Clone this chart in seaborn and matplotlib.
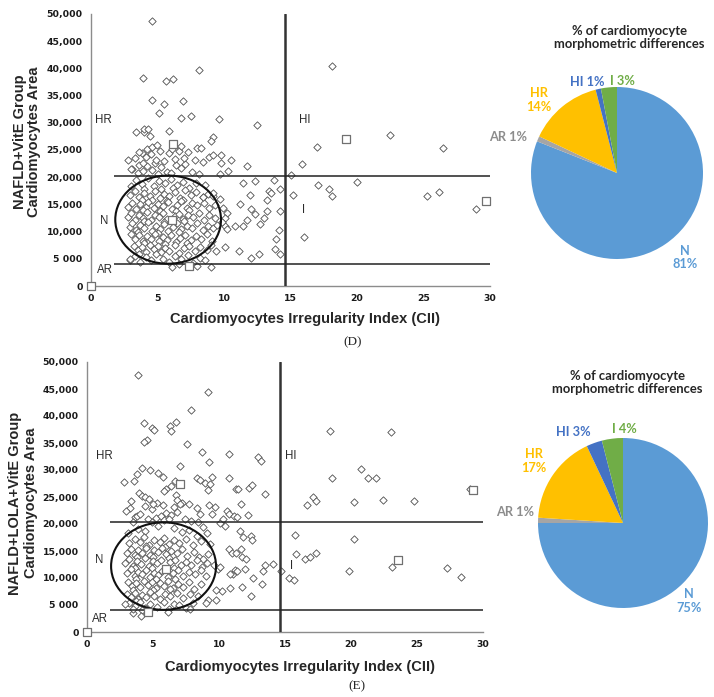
# Cardiomyocyte morphometry: CII vs area scatter + pie of categories
import pandas as pd
import matplotlib
matplotlib.use('Agg')
import matplotlib.pyplot as plt
from matplotlib.patches import Ellipse
import seaborn as sns

# ---------------- data ----------------
y_ticks = [0, 5000, 10000, 15000, 20000, 25000, 30000, 35000, 40000, 45000, 50000]
y_tick_labels = ['0', '5 000', '10,000', '15,000', '20,000', '25,000',
                 '30,000', '35,000', '40,000', '45,000', '50,000']
x_ticks = [0, 5, 10, 15, 20, 25, 30]

# cut-offs
cii_cut = 14.6
area_high = 20300
area_low = 4100
normal_center = (5.8, 12200)
normal_size = (7.95, 16200)

# panel D, NAFLD+VitE
d_cluster = [
    (3.1, 21500), (3.5, 20800), (3.9, 21200), (4.2, 22000), (4.6, 21400), (5.0, 20600),
    (5.3, 21800), (5.7, 21000), (6.0, 20700), (6.4, 22300), (6.8, 21600), (7.1, 22400),
    (7.6, 20900), (8.1, 20600), (4.8, 22600), (3.6, 22300),
    (3.3, 23500), (3.8, 24500), (4.1, 23700), (4.5, 24200), (4.9, 23100), (5.2, 24800),
    (5.5, 22900), (5.9, 24400), (6.3, 23300), (6.6, 24900), (7.0, 23600), (7.3, 24600),
    (7.8, 23100), (8.4, 22800), (3.9, 22700), (6.1, 25200),
    (3.0, 18300), (3.4, 19500), (3.8, 18700), (4.3, 19800), (4.7, 18400), (5.1, 19300),
    (5.6, 18900), (6.0, 19700), (6.5, 18500), (6.9, 19200), (7.4, 18100), (7.9, 19000),
    (8.6, 18600), (4.0, 17900), (5.3, 17800), (6.2, 18000),
    (2.9, 16800), (3.3, 17400), (3.6, 16300), (4.0, 17100), (4.4, 16600), (4.8, 17500),
    (5.2, 16200), (5.5, 17000), (5.9, 16500), (6.3, 17300), (6.7, 16100), (7.1, 17600),
    (7.5, 16700), (7.9, 17200), (8.4, 16400), (8.8, 17000), (9.2, 16600), (3.8, 15900),
    (4.6, 15800), (5.7, 15700), (6.9, 15900),
    (2.8, 14500), (3.1, 15300), (3.4, 14200), (3.7, 15000), (4.1, 14600), (4.3, 15500),
    (4.7, 14300), (5.0, 15100), (5.4, 14700), (5.8, 15400), (6.1, 14100), (6.5, 14900),
    (6.8, 15600), (7.2, 14400), (7.6, 15200), (8.0, 14800), (8.5, 15300), (8.9, 14300),
    (9.3, 14900), (3.9, 13900), (5.2, 13800), (6.4, 13700), (7.4, 13900),
    (2.8, 12600), (3.0, 13400), (3.3, 12200), (3.6, 13100), (3.9, 12500), (4.2, 13600),
    (4.5, 12100), (4.8, 13000), (5.1, 12700), (5.4, 13500), (5.7, 12300), (6.3, 12900),
    (6.6, 13300), (6.9, 12400), (7.3, 13100), (7.7, 12600), (8.1, 13400), (8.5, 12200),
    (8.9, 13000), (9.3, 12500), (4.0, 11900), (5.5, 11800), (7.0, 11900),
    (2.9, 10800), (3.1, 11500), (3.4, 10300), (3.7, 11200), (4.0, 10600), (4.3, 11700),
    (4.6, 10200), (4.9, 11000), (5.2, 10500), (5.5, 11400), (5.8, 10100), (6.2, 10900),
    (6.5, 11600), (6.8, 10400), (7.2, 11100), (7.6, 10700), (8.0, 11500), (8.4, 10300),
    (8.8, 11000), (9.2, 10600), (9.5, 11300), (3.5, 9900), (5.0, 9800), (6.6, 9900),
    (3.0, 9500), (3.3, 8700), (3.6, 9300), (3.9, 8300), (4.2, 9100), (4.5, 8600),
    (4.8, 9600), (5.1, 8200), (5.4, 9000), (5.7, 8500), (6.0, 9400), (6.4, 8100),
    (6.7, 8900), (7.1, 9300), (7.5, 8400), (7.9, 9100), (8.3, 8700), (8.7, 9500),
    (9.1, 8300), (4.0, 7900), (5.6, 7800), (7.2, 7900),
    (3.2, 7400), (3.5, 6600), (3.8, 7100), (4.1, 6300), (4.4, 7600), (4.7, 6800),
    (5.0, 7300), (5.3, 6200), (5.6, 7000), (5.9, 6500), (6.3, 7500), (6.6, 6100),
    (7.0, 6900), (7.4, 7300), (7.8, 6400), (8.2, 7100), (8.7, 6700), (9.0, 7500), (3.6, 5900),
    (2.9, 4800), (3.3, 5600), (3.7, 4500), (4.1, 5300), (4.5, 4700), (4.9, 5800),
    (5.4, 5000), (5.9, 4400), (6.3, 5500), (6.8, 4900), (7.3, 5700), (7.7, 4300),
    (8.2, 5200), (8.6, 4700), (9.4, 6500),
]
d_outer = [
    (4.58, 48650), (3.9, 38250), (5.65, 37640), (6.2, 38130), (8.15, 39720), (4.6, 34270),
    (5.5, 33400), (6.9, 34000), (5.15, 31760), (7.5, 31210), (6.8, 30840), (9.6, 30660),
    (12.5, 29620), (3.4, 28330), (4.0, 28300), (4.0, 28900), (4.3, 28800), (4.4, 27660),
    (5.9, 28500), (9.2, 27480), (9.0, 26740), (6.8, 25700), (8.0, 25330), (8.3, 25330),
    (3.6, 24600), (4.2, 25200), (4.6, 25640), (4.95, 26000), (2.8, 23070), (3.0, 21540),
    (8.9, 23750), (9.2, 24170), (9.8, 22580), (10.5, 23190), (9.8, 24050), (11.7, 22090),
    (10.3, 21170), (9.7, 20500), (11.4, 18900), (12.3, 19340), (13.75, 19520), (14.2, 17870),
    (11.95, 16650), (11.2, 15120), (13.2, 15730), (13.4, 17440), (13.55, 17140), (12.0, 14200),
    (12.35, 13280), (13.0, 12480), (12.7, 11320), (13.2, 13770), (14.2, 13770), (11.7, 12060),
    (11.4, 11020), (10.85, 11080), (10.1, 11080), (10.2, 10400), (11.15, 6490), (12.0, 5200),
    (12.6, 5810), (13.8, 6850), (13.9, 8570), (14.15, 10220), (14.2, 5810), (8.45, 16340),
    (9.2, 17070), (9.7, 15970), (9.9, 14380), (10.2, 13400), (10.1, 12550), (9.85, 11690),
    (9.0, 3490), (7.95, 3670), (6.1, 3490), (6.65, 4100), (2.95, 5020), (10.1, 7100),
    (18.09, 40450), (22.49, 27780), (16.96, 25520), (26.48, 25340), (15.88, 22460),
    (15.03, 20440), (20.03, 19160), (17.06, 18600), (17.89, 17810), (18.14, 16460),
    (15.2, 16710), (25.28, 16520), (26.13, 17200), (28.97, 14200), (15.98, 8940),
]
d_centroids = [(0, 0), (6.2, 26100), (6.1, 12060), (7.4, 3600), (19.17, 26990), (29.67, 15670)]

# panel E, NAFLD+LOLA+VitE
e_cluster = [
    (5.2, 21200), (5.6, 21500), (6.0, 22000), (6.4, 21600), (6.8, 22300), (7.4, 21000),
    (7.9, 20600), (8.4, 20300), (4.6, 20900), (3.6, 21300), (6.6, 23200), (7.2, 23800),
    (5.3, 23900), (4.9, 22800),
    (3.1, 18300), (3.9, 19100), (4.4, 18700), (4.9, 20400), (5.4, 19600), (5.8, 20800),
    (6.2, 21000), (6.6, 19300), (7.2, 18600), (7.7, 18900), (8.3, 17800), (8.8, 19500),
    (9.1, 18300), (3.5, 20400),
    (3.2, 16400), (3.6, 17200), (4.0, 16700), (4.3, 17600), (4.7, 16200), (5.1, 17100),
    (5.5, 16600), (5.8, 17500), (6.2, 16300), (6.6, 17000), (7.0, 16500), (7.5, 17300),
    (8.0, 16100), (8.6, 16900), (9.3, 16300), (4.5, 15900), (5.9, 15800),
    (3.0, 14600), (3.3, 15400), (3.6, 14200), (3.9, 15100), (4.2, 14700), (4.5, 15500),
    (4.8, 14300), (5.1, 15200), (5.4, 14800), (5.7, 15600), (6.0, 14400), (6.4, 15000),
    (6.8, 14600), (7.2, 15300), (7.6, 14100), (8.1, 14900), (8.5, 13900), (8.8, 13600),
    (9.2, 14500), (3.8, 13900), (5.0, 13800), (6.2, 13700),
    (2.9, 12800), (3.2, 13500), (3.5, 12300), (3.8, 13200), (4.1, 12600), (4.4, 13700),
    (4.7, 12200), (5.0, 13100), (5.3, 12700), (5.6, 13400), (6.3, 12900), (6.7, 13300),
    (7.1, 12400), (7.5, 13000), (7.9, 12500), (8.3, 13400), (8.7, 12100), (9.1, 12800),
    (9.6, 12500), (3.6, 11900), (4.9, 11800), (6.6, 11800),
    (3.0, 10900), (3.3, 11600), (3.6, 10400), (3.9, 11200), (4.2, 10700), (4.5, 11500),
    (4.8, 10200), (5.1, 11000), (5.4, 10600), (5.7, 11300), (6.1, 10100), (6.5, 10900),
    (6.9, 11400), (7.3, 10400), (7.7, 11100), (8.2, 10700), (8.6, 11500), (9.0, 10300),
    (3.7, 9900), (5.2, 9800), (6.7, 9900),
    (3.1, 9300), (3.4, 8600), (3.7, 9100), (4.0, 8300), (4.3, 9500), (4.6, 8700),
    (4.9, 9200), (5.2, 8100), (5.5, 9000), (5.8, 8500), (6.1, 9400), (6.5, 8200),
    (6.9, 8900), (7.3, 8400), (7.7, 9200), (8.1, 8000), (8.6, 8800), (3.5, 7800),
    (5.0, 7700), (6.3, 7900),
    (3.0, 7000), (3.3, 6500), (3.6, 7300), (3.9, 6200), (4.2, 6900), (4.5, 6400),
    (4.8, 7400), (5.1, 6700), (5.5, 6100), (5.9, 7100), (6.3, 6600), (6.8, 7200),
    (7.3, 6300), (7.8, 7000), (8.4, 6700), (3.7, 5800),
    (3.2, 5400), (3.6, 4800), (4.0, 5600), (4.4, 4400), (4.8, 5200), (5.3, 4600),
    (5.8, 5500), (6.2, 4300), (6.6, 5100), (7.5, 4500), (4.2, 4000),
]
e_outer = [
    (3.87, 47530), (9.19, 44380), (7.85, 41050), (4.3, 38700), (6.28, 38150), (6.71, 38950),
    (6.35, 37220), (4.89, 37840), (5.04, 37350), (4.53, 35490), (4.3, 35250), (7.57, 34750),
    (8.68, 33400), (10.73, 33020), (9.24, 31480), (12.96, 32410), (13.19, 31600), (7.01, 30680),
    (4.18, 30370), (4.81, 30060), (5.37, 29440), (5.72, 28770), (3.77, 29320), (3.57, 28020),
    (2.78, 27720), (6.66, 27900), (6.4, 27100), (6.0, 26540), (5.85, 26170), (8.35, 28520),
    (8.58, 28210), (8.96, 27530), (9.47, 28700), (9.34, 27350), (9.14, 26230), (10.73, 28580),
    (11.32, 26540), (11.44, 26540), (12.28, 26600), (12.53, 27160), (13.49, 25620), (3.95, 25740),
    (4.2, 25120), (4.43, 24940), (4.71, 24570), (5.01, 23770), (4.43, 23330), (3.37, 24260),
    (3.27, 22900), (2.94, 22470), (3.8, 21540), (4.0, 21790), (5.72, 23460), (6.73, 25370),
    (6.84, 24510), (7.7, 23700), (7.04, 23770), (8.35, 22900), (9.27, 23460), (9.72, 23150),
    (9.47, 21790), (8.58, 21850), (10.08, 20190), (10.58, 22470), (10.73, 21910), (11.11, 21480),
    (11.34, 21300), (10.3, 20990), (10.48, 19630), (11.67, 23640), (12.23, 21730), (11.57, 18700),
    (11.85, 17590), (12.4, 17780), (12.5, 16980), (10.73, 15430), (10.96, 14690), (11.65, 15430),
    (11.72, 13890), (12.03, 13460), (11.32, 14570), (11.97, 11730), (11.04, 10800), (11.22, 11540),
    (11.37, 11300), (10.84, 10800), (9.92, 11730), (10.08, 11980), (13.52, 12350), (14.08, 12530),
    (13.37, 11300), (13.29, 8950), (12.61, 10060), (12.41, 6730), (11.75, 8330), (10.84, 8090),
    (10.2, 7590), (9.8, 7720), (9.8, 5930), (9.16, 5860), (9.01, 5430), (14.71, 11360),
    (8.0, 5310), (7.8, 4320), (6.15, 3770), (6.94, 5060), (4.1, 3020), (3.52, 3580),
    (3.49, 4200), (2.89, 5190),
    (18.38, 37160), (23.01, 36980), (20.72, 30120), (18.53, 28580), (21.25, 28580),
    (21.88, 28580), (28.98, 26420), (17.09, 25000), (17.34, 24320), (16.66, 23460),
    (20.26, 24070), (22.43, 24440), (24.77, 24320), (15.73, 18020), (20.19, 17220),
    (15.83, 14510), (16.51, 13460), (16.86, 13830), (17.32, 14570), (23.14, 12040),
    (27.27, 11850), (28.35, 10250), (19.84, 11300), (15.33, 10060), (15.68, 9630),
]
e_centroids = [(0, 0), (7.06, 27470), (5.95, 11730), (4.63, 3640), (23.56, 13330), (29.23, 26360)]

# pie shares (clockwise from 12 o'clock)
pie_labels = ['N', 'AR', 'HR', 'HI', 'I']
pie_colors = ['#5B9BD5', '#A5A5A5', '#FFC000', '#4472C4', '#70AD47']
label_colors = ['#5B9BD5', '#8C8C8C', '#FFC000', '#4472C4', '#70AD47']
d_pie = [81, 1, 14, 1, 3]
e_pie = [75, 1, 17, 3, 4]

# ---------------- style ----------------
sns.set_style('white')
plt.rcParams['font.family'] = ['Liberation Sans', 'DejaVu Sans']

W, H = 714, 697
fig = plt.figure(figsize=(W / 100, H / 100), dpi=100)


def px_rect(left, top, right, bottom):
    return [left / W, 1 - bottom / H, (right - left) / W, (bottom - top) / H]


def draw_scatter(ax, cloud, cents, region_pos):
    pts = pd.DataFrame(cloud, columns=['cii', 'area'])
    cen = pd.DataFrame(cents, columns=['cii', 'area'])
    sns.scatterplot(data=pts, x='cii', y='area', marker='D', s=14, color='white',
                    edgecolor='#4d4d4d', linewidth=0.6, ax=ax, zorder=3)
    sns.scatterplot(data=cen, x='cii', y='area', marker='s', s=38, color='white',
                    edgecolor='#707070', linewidth=0.9, ax=ax, zorder=5, clip_on=False)
    ax.axvline(cii_cut, color='#333333', lw=1.8, zorder=4)
    ax.hlines([area_high, area_low], 1.75, 30, color='#222222', lw=1.1, zorder=4)
    ax.add_patch(Ellipse(normal_center, normal_size[0], normal_size[1], fill=False,
                         edgecolor='#111111', lw=1.5, zorder=4))
    for name, (x, y) in region_pos.items():
        ax.text(x, y, name, ha='center', va='center', fontsize=8.3, color='#2b2b2b')
    ax.set_xlim(0, 30)
    ax.set_ylim(0, 50000)
    ax.set_xticks(x_ticks)
    ax.set_yticks(y_ticks)
    ax.set_yticklabels(y_tick_labels)
    ax.set_xlabel('')
    ax.set_ylabel('')
    for lab in ax.get_xticklabels() + ax.get_yticklabels():
        lab.set_family('DejaVu Sans')
        lab.set_fontweight('bold')
        lab.set_fontsize(6.7)
        lab.set_color('#1a1a1a')
    sns.despine(ax=ax)
    for s in ['left', 'bottom']:
        ax.spines[s].set_color('#8c8c8c')
        ax.spines[s].set_linewidth(1.0)
    ax.tick_params(axis='both', direction='out', length=4, width=0.8, color='#8c8c8c', pad=2)


def draw_pie(ax, shares, label_pos, title_pos):
    ax.pie(shares, colors=pie_colors, startangle=90, counterclock=False,
           wedgeprops={'linewidth': 0})
    ax.set_xlim(-1, 1)
    ax.set_ylim(-1, 1)
    ax.text(title_pos[0], title_pos[1], '% of cardiomyocyte\nmorphometric differences',
            ha='center', va='center', fontsize=9.4, fontweight='bold', family='Lato',
            color='#262626', linespacing=1.1, clip_on=False)
    for lab, val, col in zip(pie_labels, shares, label_colors):
        x, y, two_line = label_pos[lab]
        txt = f'{lab}\n{val}%' if two_line else f'{lab} {val}%'
        ax.text(x, y, txt, ha='center', va='center', fontsize=9.2, fontweight='bold',
                family='Lato', color=col, linespacing=1.15, clip_on=False)


# panel D
ax_d = fig.add_axes(px_rect(91, 14, 490, 286))
draw_scatter(ax_d, d_cluster + d_outer, d_centroids,
             {'HR': (0.95, 30540), 'HI': (16.1, 30540), 'N': (1.0, 11930),
              'I': (16.0, 14000), 'AR': (1.07, 2880)})
fig.text(27 / W, 1 - 142 / H, 'NAFLD+VitE Group\nCardiomyocytes Area', rotation=90,
         ha='center', va='center', fontsize=10.5, fontweight='bold', linespacing=1.0)
fig.text(305 / W, 1 - 319 / H, 'Cardiomyocytes Irregularity Index (CII)',
         ha='center', va='center', fontsize=10.5, fontweight='bold')
fig.text(353 / W, 1 - 342 / H, '(D)', ha='center', va='center', fontsize=9.5,
         family='Liberation Serif')

ax_dp = fig.add_axes(px_rect(617 - 86, 173 - 86, 617 + 86, 173 + 86))
draw_pie(ax_dp, d_pie,
         {'N': (0.79, -0.98, True), 'AR': (-1.27, 0.42, False), 'HR': (-0.91, 0.85, True),
          'HI': (-0.35, 1.06, False), 'I': (0.06, 1.07, False)},
         (0.14, 1.57))

# panel E
ax_e = fig.add_axes(px_rect(87, 362, 483, 632))
draw_scatter(ax_e, e_cluster + e_outer, e_centroids,
             {'HR': (1.34, 32590), 'HI': (15.4, 32590), 'N': (0.96, 13270),
              'I': (15.5, 12220), 'AR': (0.96, 2350)})
fig.text(23 / W, 1 - 503 / H, 'NAFLD+LOLA+VitE Group\nCardiomyocytes Area', rotation=90,
         ha='center', va='center', fontsize=10.5, fontweight='bold', linespacing=1.1)
fig.text(300 / W, 1 - 667 / H, 'Cardiomyocytes Irregularity Index (CII)',
         ha='center', va='center', fontsize=10.5, fontweight='bold')
fig.text(357 / W, 1 - 686 / H, '(E)', ha='center', va='center', fontsize=9.5,
         family='Liberation Serif')

ax_ep = fig.add_axes(px_rect(623 - 85, 523 - 85, 623 + 85, 523 + 85))
draw_pie(ax_ep, e_pie,
         {'N': (0.78, -0.92, True), 'AR': (-1.27, 0.13, False), 'HR': (-1.05, 0.73, True),
          'HI': (-0.59, 1.07, False), 'I': (0.02, 1.11, False)},
         (0.05, 1.65))

fig.savefig('out.png', dpi=100)
